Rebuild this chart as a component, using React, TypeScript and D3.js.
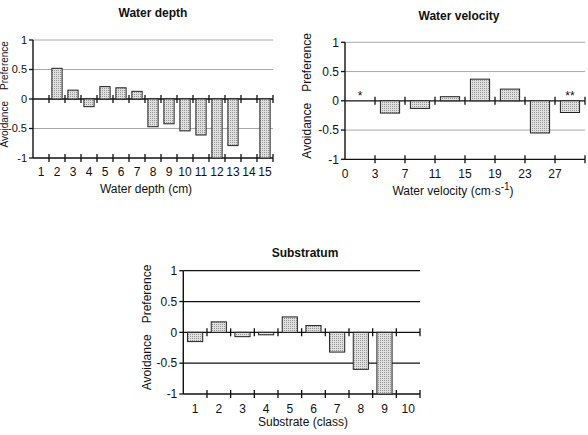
import React, { useEffect, useRef } from 'react';
import * as d3 from 'd3';

const FONT = '"Liberation Sans", Arial, Helvetica, sans-serif';

const yTicks = [1, 0.5, 0, -0.5, -1];
const gridLevels = [1, 0.5, -0.5];

const depthCategories = ['1', '2', '3', '4', '5', '6', '7', '8', '9', '10', '11', '12', '13', '14', '15'];
const depthValues = [null, 0.52, 0.15, -0.13, 0.21, 0.19, 0.13, -0.47, -0.42, -0.54, -0.61, -1, -0.79, null, -1];

const velocityTicks = ['0', '3', '7', '11', '15', '19', '23', '27'];
const velocityValues = [null, -0.21, -0.13, 0.07, 0.37, 0.2, -0.55, -0.2];
const velocityMarks = ['*', '', '', '', '', '', '', '**'];

const substrateCategories = ['1', '2', '3', '4', '5', '6', '7', '8', '9', '10'];
const substrateValues = [-0.15, 0.17, -0.07, -0.04, 0.25, 0.11, -0.32, -0.6, -1, null];

function drawPanel(root, o) {
  const g = root.append('g');
  const y = d3.scaleLinear().domain([-1, 1]).range([o.bottom, o.top]);
  const x = d3.scaleBand()
    .domain(o.categories)
    .range([o.left, o.right])
    .paddingInner(0.36)
    .paddingOuter(0.18);
  const step = x.step();
  const edges = d3.range(o.categories.length + 1).map(i => o.left + i * step);
  const yTickSize = o.yTickSize || 12;
  const yLabelSize = o.yLabelSize || 12;

  // light reference lines
  g.selectAll('.grid')
    .data(gridLevels)
    .enter().append('line')
    .attr('x1', o.left).attr('x2', o.right)
    .attr('y1', d => y(d)).attr('y2', d => y(d))
    .attr('stroke', o.gridColor)
    .attr('stroke-width', o.gridWidth);

  // zero line and bottom line carry the class ticks
  [0, -1].forEach(level => {
    g.append('line')
      .attr('x1', o.left).attr('x2', o.right)
      .attr('y1', y(level)).attr('y2', y(level))
      .attr('stroke', '#111').attr('stroke-width', 1.3);
    g.selectAll(null)
      .data(edges.slice(1))
      .enter().append('line')
      .attr('x1', d => d).attr('x2', d => d)
      .attr('y1', y(level) - 4).attr('y2', y(level) + 4)
      .attr('stroke', '#111').attr('stroke-width', 1.3);
  });

  // y axis
  g.append('line')
    .attr('x1', o.left).attr('x2', o.left)
    .attr('y1', y(1)).attr('y2', y(-1))
    .attr('stroke', '#111').attr('stroke-width', 1.4);
  g.selectAll(null)
    .data(yTicks)
    .enter().append('line')
    .attr('x1', o.left - 4).attr('x2', o.left)
    .attr('y1', d => y(d)).attr('y2', d => y(d))
    .attr('stroke', '#111').attr('stroke-width', 1.3);
  g.selectAll(null)
    .data(yTicks)
    .enter().append('text')
    .attr('x', o.left - 6)
    .attr('y', d => y(d))
    .attr('dy', '0.35em')
    .attr('text-anchor', 'end')
    .style('font-size', `${yTickSize}px`)
    .text(d => String(d));

  // bars
  const bars = o.categories
    .map((c, i) => ({ c, v: o.values[i] }))
    .filter(d => d.v !== null);
  g.selectAll(null)
    .data(bars)
    .enter().append('rect')
    .attr('x', d => x(d.c))
    .attr('width', x.bandwidth())
    .attr('y', d => y(Math.max(d.v, 0)))
    .attr('height', d => Math.abs(y(d.v) - y(0)))
    .attr('fill', 'url(#stipple)')
    .attr('stroke', '#222')
    .attr('stroke-width', 1);

  // significance marks
  if (o.marks) {
    g.selectAll(null)
      .data(o.categories.map((c, i) => ({ c, m: o.marks[i] })).filter(d => d.m))
      .enter().append('text')
      .attr('x', d => x(d.c) + x.bandwidth() / 2)
      .attr('y', y(0) - 1)
      .attr('text-anchor', 'middle')
      .style('font-size', '12px')
      .text(d => d.m);
  }

  // x tick labels
  const labels = o.tickLabels.map((t, i) => ({
    t,
    x: o.labelAtEdge ? edges[i] : x(o.categories[i]) + x.bandwidth() / 2,
  }));
  g.selectAll(null)
    .data(labels)
    .enter().append('text')
    .attr('x', d => d.x)
    .attr('y', o.tickLabelY)
    .attr('text-anchor', 'middle')
    .style('font-size', '12px')
    .text(d => d.t);

  // titles
  g.append('text')
    .attr('x', o.titleX).attr('y', o.titleY)
    .attr('text-anchor', 'middle')
    .style('font-size', '12px')
    .style('font-weight', 'bold')
    .text(o.title);

  const xt = g.append('text')
    .attr('x', o.xTitleX).attr('y', o.xTitleY)
    .attr('text-anchor', 'middle')
    .style('font-size', '12px');
  o.xTitle(xt);

  g.append('text')
    .attr('transform', `translate(${o.yLabelX},${y(0) - 9}) rotate(-90)`)
    .attr('text-anchor', 'start')
    .style('font-size', `${yLabelSize}px`)
    .text('Preference');
  g.append('text')
    .attr('transform', `translate(${o.yLabelX},${y(0) + 2}) rotate(-90)`)
    .attr('text-anchor', 'end')
    .style('font-size', `${yLabelSize}px`)
    .text('Avoidance');
}

const App = () => {
  const ref = useRef(null);

  useEffect(() => {
    const svg = d3.select(ref.current);
    svg.selectAll('*').remove();

    const pattern = svg.append('defs').append('pattern')
      .attr('id', 'stipple')
      .attr('width', 2).attr('height', 2)
      .attr('patternUnits', 'userSpaceOnUse');
    pattern.append('rect').attr('width', 2).attr('height', 2).attr('fill', '#e0e0e0');
    pattern.append('rect').attr('width', 1).attr('height', 1).attr('fill', '#959595');

    const root = svg.append('g').style('font-family', FONT).attr('fill', '#111');

    drawPanel(root, {
      left: 33, right: 273, top: 40, bottom: 158,
      categories: depthCategories,
      values: depthValues,
      tickLabels: depthCategories,
      gridColor: '#a8a8a8', gridWidth: 1,
      title: 'Water depth', titleX: 153, titleY: 17,
      tickLabelY: 176,
      xTitle: t => t.text('Water depth (cm)'), xTitleX: 146, xTitleY: 193,
      yLabelX: 8, yLabelSize: 10, yTickSize: 11,
    });

    drawPanel(root, {
      left: 345, right: 585, top: 42.3, bottom: 159.3,
      categories: velocityTicks,
      values: velocityValues,
      marks: velocityMarks,
      tickLabels: velocityTicks,
      labelAtEdge: true,
      gridColor: '#a8a8a8', gridWidth: 1,
      title: 'Water velocity', titleX: 459, titleY: 20,
      tickLabelY: 177.5,
      xTitle: t => {
        t.append('tspan').text('Water velocity (cm\u00b7s');
        t.append('tspan').attr('dy', -5).style('font-size', '10px').text('-1');
        t.append('tspan').attr('dy', 5).text(')');
      },
      xTitleX: 453, xTitleY: 195,
      yLabelX: 311,
    });

    drawPanel(root, {
      left: 183.3, right: 420, top: 270.7, bottom: 394,
      categories: substrateCategories,
      values: substrateValues,
      tickLabels: substrateCategories,
      gridColor: '#111', gridWidth: 1.2,
      title: 'Substratum', titleX: 305, titleY: 257,
      tickLabelY: 412.5,
      xTitle: t => t.text('Substrate (class)'), xTitleX: 303, xTitleY: 426,
      yLabelX: 151,
    });
  }, []);

  return (
    <svg
      ref={ref}
      width={588}
      height={435}
      style={{ position: 'absolute', left: 0, top: 0, background: '#fff' }}
    />
  );
};

export default App;
